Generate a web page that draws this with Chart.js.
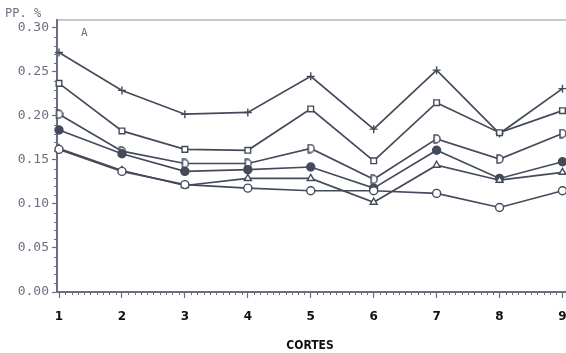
<!DOCTYPE html>
<html>
<head>
<meta charset="utf-8">
<script src="https://cdn.jsdelivr.net/npm/chart.js@4.4.1/dist/chart.umd.min.js"></script>
<style>
html,body{margin:0;padding:0;background:#fff;}
#wrap{width:566px;height:353px;position:relative;}
</style>
</head>
<body>
<div id="wrap"><canvas id="c" width="566" height="353"></canvas></div>
<script>
// ---- data ----
const categories = [1, 2, 3, 4, 5, 6, 7, 8, 9];
const seriesPlus     = [0.272, 0.229, 0.202, 0.204, 0.245, 0.185, 0.252, 0.180, 0.231];
const seriesSquare   = [0.237, 0.183, 0.162, 0.161, 0.208, 0.149, 0.215, 0.181, 0.206];
const seriesHalf     = [0.202, 0.160, 0.146, 0.146, 0.163, 0.128, 0.174, 0.151, 0.180];
const seriesFilled   = [0.184, 0.157, 0.137, 0.139, 0.142, 0.118, 0.161, 0.129, 0.148];
const seriesTriangle = [0.163, 0.138, 0.121, 0.129, 0.129, 0.102, 0.144, 0.127, 0.136];
const seriesCircle   = [0.162, 0.137, 0.122, 0.118, 0.115, 0.115, 0.112, 0.096, 0.115];
const yTicks = [0.00, 0.05, 0.10, 0.15, 0.20, 0.25, 0.30];
const yLabels = ['0.00', '0.05', '0.10', '0.15', '0.20', '0.25', '0.30'];

const INK = '#434a5a';
const AXIS = '#687080';

// D-shaped marker
function makeD() {
  const cv = document.createElement('canvas');
  cv.width = 9; cv.height = 10;
  const g = cv.getContext('2d');
  g.strokeStyle = INK; g.lineWidth = 1.5; g.fillStyle = '#fff';
  g.beginPath();
  g.moveTo(2, 1); g.lineTo(4, 1);
  g.arc(4, 5, 4, -Math.PI / 2, Math.PI / 2);
  g.lineTo(2, 9); g.closePath();
  g.fill(); g.stroke();
  return cv;
}
const dMarker = makeD();

function pts(vals) { return categories.map((c, i) => ({x: c, y: vals[i]})); }

function ds(vals, style, fill, radius) {
  return {
    data: pts(vals),
    borderColor: INK,
    borderWidth: 1.7,
    pointStyle: style,
    pointRadius: radius,
    pointBorderWidth: 1.4,
    pointBackgroundColor: fill,
    pointBorderColor: INK,
    tension: 0,
    clip: false
  };
}

const extras = {
  id: 'extras',
  afterDraw(chart) {
    const ctx = chart.ctx, a = chart.chartArea;
    const xs = chart.scales.x, ys = chart.scales.y;
    ctx.save();
    // top frame
    ctx.strokeStyle = '#8a909c'; ctx.lineWidth = 1.2;
    ctx.beginPath(); ctx.moveTo(a.left, a.top); ctx.lineTo(a.right, a.top); ctx.stroke();
    // minor ticks
    ctx.strokeStyle = AXIS; ctx.lineWidth = 1;
    ctx.beginPath();
    for (let k = 10; k <= 90; k++) {
      if (k % 10 === 0) continue;
      const px = Math.round(xs.getPixelForValue(k / 10)) + 0.5;
      ctx.moveTo(px, a.bottom); ctx.lineTo(px, a.bottom + 3);
    }
    for (let k = 0; k <= 30; k++) {
      if (k % 5 === 0) continue;
      const py = Math.round(ys.getPixelForValue(k / 100)) + 0.5;
      ctx.moveTo(a.left - 3, py); ctx.lineTo(a.left, py);
    }
    ctx.stroke();
    // texts
    ctx.fillStyle = '#6a7080';
    ctx.font = '12px "DejaVu Sans Mono"';
    ctx.textBaseline = 'middle'; ctx.textAlign = 'left';
    ctx.fillText('PP. %', 5, 14);
    ctx.font = '11px "DejaVu Sans Mono"';
    ctx.fillText('A', 81, 33);
    ctx.fillStyle = '#111';
    ctx.font = 'bold 12px "DejaVu Sans Condensed"';
    ctx.textAlign = 'center';
    ctx.fillText('CORTES', 310, 346);
    ctx.restore();
  }
};

new Chart(document.getElementById('c'), {
  type: 'line',
  data: {
    datasets: [
      ds(seriesCircle, 'circle', '#fff', 4),
      ds(seriesTriangle, 'triangle', '#fff', 4),
      ds(seriesFilled, 'circle', INK, 4),
      ds(seriesHalf, dMarker, '#fff', 4),
      ds(seriesSquare, 'rect', '#fff', 4),
      ds(seriesPlus, 'cross', '#fff', 4)
    ]
  },
  options: {
    responsive: false,
    animation: false,
    devicePixelRatio: 1,
    layout: {autoPadding: false, padding: {top: 20, right: 0, left: 0, bottom: 0}},
    plugins: {legend: {display: false}, tooltip: {enabled: false}},
    scales: {
      x: {
        type: 'linear',
        min: 0.968, max: 9.056,
        afterBuildTicks(s) { s.ticks = categories.map(v => ({value: v})); },
        afterFit(s) { s.height = 61; s.paddingLeft = 0; s.paddingRight = 0; },
        grid: {drawOnChartArea: false, drawTicks: true, tickLength: 6, color: AXIS, tickWidth: 1.2},
        border: {color: AXIS, width: 2},
        ticks: {
          padding: 12, color: '#111',
          font: {family: 'DejaVu Sans', weight: 'bold', size: 12},
          maxRotation: 0, autoSkip: false,
          callback: v => String(v)
        }
      },
      y: {
        min: 0, max: 0.309,
        afterBuildTicks(s) { s.ticks = yTicks.map(v => ({value: v})); },
        afterFit(s) { s.width = 57; s.paddingTop = 0; s.paddingBottom = 0; },
        grid: {drawOnChartArea: false, drawTicks: true, tickLength: 5, color: AXIS, tickWidth: 1.2},
        border: {color: AXIS, width: 2},
        ticks: {
          padding: 3, color: '#6a7080',
          font: {family: 'DejaVu Sans Mono', size: 13},
          autoSkip: false,
          callback: (v, i) => yLabels[i]
        }
      }
    }
  },
  plugins: [extras]
});
</script>
</body>
</html>
